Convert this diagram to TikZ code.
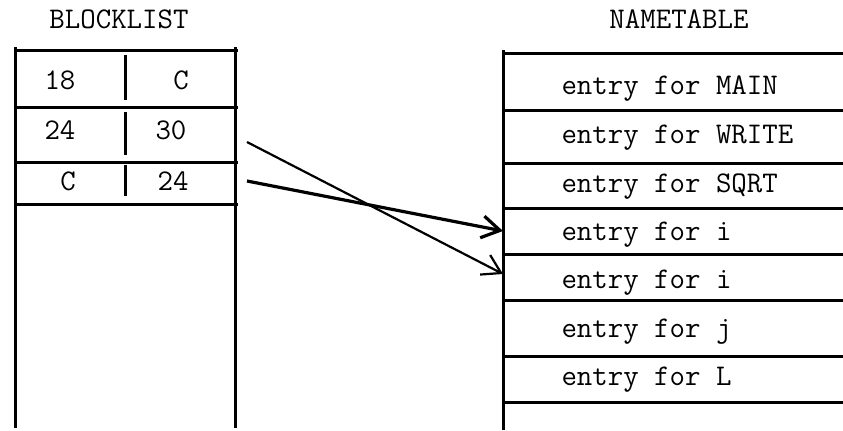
\documentclass[tikz,border=0pt]{standalone}
\usetikzlibrary{arrows.meta}
\begin{document}
\begin{tikzpicture}[x=0.5pt, y=-0.5pt, line width=1.5pt,
    txt/.style={font=\fontsize{15}{17}\ttfamily, inner sep=0pt},
    ptr/.style={-{Straight Barb[length=9pt,width=11pt]}}]
    \useasboundingbox (0,0) rectangle (843,430);
    \node[txt] (blocklist) at (119,19) {BLOCKLIST};
    \node[txt] (nametable) at (679,19) {NAMETABLE};
    \draw (15,47) -- (15,428);
    \draw (235,47) -- (235,428);
    \foreach \y in {50,107,162,204} \draw (15,\y) -- (238,\y);
    \draw (125,55) -- (125,100);
    \draw (125,112) -- (125,155);
    \draw (125,165) -- (125,196);
    \node[txt] (b1l) at (60,80) {18};
    \node[txt] (b1r) at (181,80) {C};
    \node[txt] (b2l) at (60,130) {24};
    \node[txt] (b2r) at (171,130) {30};
    \node[txt] (b3l) at (68,181) {C};
    \node[txt] (b3r) at (173,181) {24};
    \draw (503,50) -- (503,430);
    \foreach \y in {53,110,163,208,254,300,356,402} \draw (503,\y) -- (843,\y);
    \foreach \t/\yb [count=\i] in {MAIN/94,WRITE/143,SQRT/192,i/240,i/288,j/337,L/385}
        \node[txt, anchor=base west] (e\i) at (560,\yb) {entry for \t};
    \coordinate (p2) at (247,142);
    \coordinate (p3) at (247,181);
    \coordinate (r4) at (503,231);
    \coordinate (r5) at (503,274);
    \draw[ptr, line width=1.1pt] (p2) -- (r5);
    \draw[ptr, line width=1.6pt] (p3) -- (r4);
\end{tikzpicture}
\end{document}
